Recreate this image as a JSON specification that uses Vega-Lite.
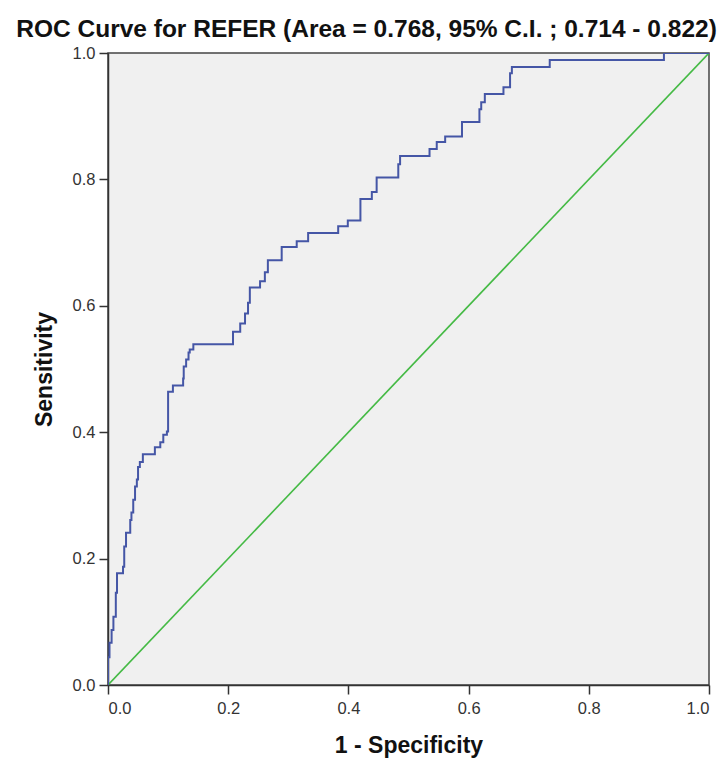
{
  "$schema": "https://vega.github.io/schema/vega-lite/v6.json",
  "width": 601,
  "height": 632,
  "autosize": "none",
  "padding": {"left": 108, "top": 53, "right": 15, "bottom": 77},
  "background": "white",
  "title": {
    "text": "ROC Curve for REFER (Area = 0.768, 95% C.I. ; 0.714 - 0.822)",
    "font": "Liberation Sans, Arial, sans-serif",
    "fontSize": 24.5,
    "fontWeight": "bold",
    "color": "#111111",
    "anchor": "middle",
    "dx": -42,
    "offset": 3
  },
  "config": {
    "view": {"fill": "#F0F0F0", "stroke": "#444444", "strokeWidth": 1.5},
    "axis": {
      "grid": false,
      "domainColor": "#333333",
      "domainWidth": 1.5,
      "tickColor": "#333333",
      "tickWidth": 1.5,
      "tickSize": 9,
      "labelFont": "Liberation Sans, Arial, sans-serif",
      "labelFontSize": 16.5,
      "labelColor": "#333333",
      "labelPadding": 4,
      "titleFont": "Liberation Sans, Arial, sans-serif",
      "titleFontSize": 23,
      "titleFontWeight": "bold",
      "titleColor": "#111111"
    }
  },
  "datasets": {
    "roc": [
      {"fpr": 0, "tpr": 0},
      {"fpr": 0.0025, "tpr": 0.044},
      {"fpr": 0.006, "tpr": 0.067},
      {"fpr": 0.009, "tpr": 0.087},
      {"fpr": 0.013, "tpr": 0.108},
      {"fpr": 0.015, "tpr": 0.146},
      {"fpr": 0.025, "tpr": 0.177},
      {"fpr": 0.027, "tpr": 0.187},
      {"fpr": 0.030, "tpr": 0.219},
      {"fpr": 0.037, "tpr": 0.241},
      {"fpr": 0.039, "tpr": 0.261},
      {"fpr": 0.042, "tpr": 0.273},
      {"fpr": 0.045, "tpr": 0.293},
      {"fpr": 0.048, "tpr": 0.314},
      {"fpr": 0.050, "tpr": 0.325},
      {"fpr": 0.053, "tpr": 0.345},
      {"fpr": 0.058, "tpr": 0.353},
      {"fpr": 0.078, "tpr": 0.365},
      {"fpr": 0.087, "tpr": 0.376},
      {"fpr": 0.092, "tpr": 0.384},
      {"fpr": 0.098, "tpr": 0.396},
      {"fpr": 0.100, "tpr": 0.401},
      {"fpr": 0.108, "tpr": 0.464},
      {"fpr": 0.125, "tpr": 0.474},
      {"fpr": 0.126, "tpr": 0.485},
      {"fpr": 0.130, "tpr": 0.504},
      {"fpr": 0.134, "tpr": 0.515},
      {"fpr": 0.136, "tpr": 0.526},
      {"fpr": 0.142, "tpr": 0.531},
      {"fpr": 0.208, "tpr": 0.539},
      {"fpr": 0.220, "tpr": 0.559},
      {"fpr": 0.228, "tpr": 0.572},
      {"fpr": 0.233, "tpr": 0.588},
      {"fpr": 0.236, "tpr": 0.605},
      {"fpr": 0.253, "tpr": 0.629},
      {"fpr": 0.261, "tpr": 0.639},
      {"fpr": 0.266, "tpr": 0.653},
      {"fpr": 0.289, "tpr": 0.672},
      {"fpr": 0.314, "tpr": 0.693},
      {"fpr": 0.333, "tpr": 0.702},
      {"fpr": 0.383, "tpr": 0.715},
      {"fpr": 0.399, "tpr": 0.726},
      {"fpr": 0.420, "tpr": 0.735},
      {"fpr": 0.439, "tpr": 0.769},
      {"fpr": 0.447, "tpr": 0.780},
      {"fpr": 0.483, "tpr": 0.803},
      {"fpr": 0.486, "tpr": 0.824},
      {"fpr": 0.535, "tpr": 0.837},
      {"fpr": 0.547, "tpr": 0.848},
      {"fpr": 0.561, "tpr": 0.859},
      {"fpr": 0.589, "tpr": 0.868},
      {"fpr": 0.618, "tpr": 0.891},
      {"fpr": 0.621, "tpr": 0.911},
      {"fpr": 0.627, "tpr": 0.922},
      {"fpr": 0.658, "tpr": 0.935},
      {"fpr": 0.669, "tpr": 0.946},
      {"fpr": 0.672, "tpr": 0.968},
      {"fpr": 0.735, "tpr": 0.978},
      {"fpr": 0.925, "tpr": 0.989},
      {"fpr": 1.0, "tpr": 1.0}
    ],
    "ref": [
      {"fpr": 0, "tpr": 0},
      {"fpr": 1, "tpr": 1}
    ]
  },
  "encoding": {
    "x": {
      "field": "fpr",
      "type": "quantitative",
      "scale": {"domain": [0, 1], "nice": false},
      "axis": {"values": [0, 0.2, 0.4, 0.6, 0.8, 1.0], "format": ".1f", "title": "1 - Specificity", "titlePadding": 18, "labelPadding": 6}
    },
    "y": {
      "field": "tpr",
      "type": "quantitative",
      "scale": {"domain": [0, 1], "nice": false},
      "axis": {"values": [0, 0.2, 0.4, 0.6, 0.8, 1.0], "format": ".1f", "title": "Sensitivity", "titlePadding": 16}
    }
  },
  "layer": [
    {
      "data": {"name": "ref"},
      "mark": {"type": "line", "color": "#45BA45", "strokeWidth": 1.6, "clip": true}
    },
    {
      "data": {"name": "roc"},
      "mark": {"type": "line", "color": "#4556A6", "strokeWidth": 2, "interpolate": "step-before", "clip": true}
    }
  ]
}
